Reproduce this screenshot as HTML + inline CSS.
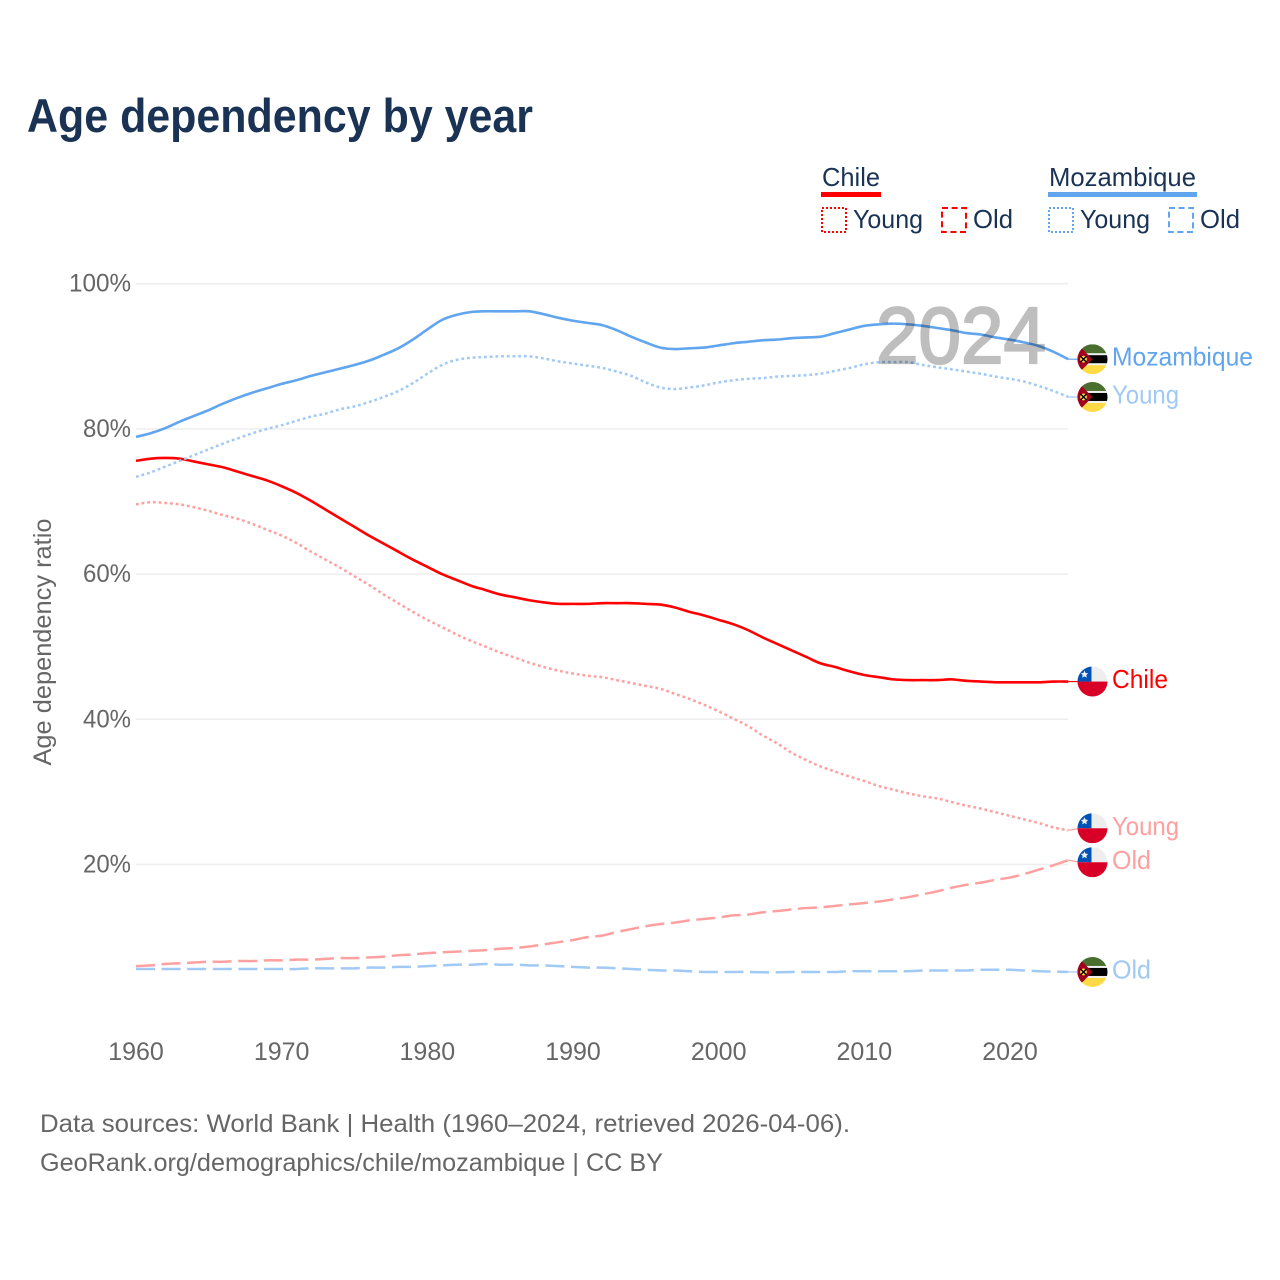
<!DOCTYPE html>
<html lang="en">
<head>
<meta charset="utf-8">
<title>Age dependency by year</title>
<style>
html,body{margin:0;padding:0;background:#fff;}
svg{display:block;font-family:"Liberation Sans",sans-serif;}
</style>
</head>
<body>
<svg id="chart" xmlns="http://www.w3.org/2000/svg" width="1280" height="1280" viewBox="0 0 1280 1280">
  <defs>
    <clipPath id="flag-clip"><circle cx="0" cy="0" r="15"/></clipPath>
    <g id="flag-chile" clip-path="url(#flag-clip)">
      <rect x="-15" y="-15" width="30" height="15" fill="#eeeeee"/>
      <rect x="-15" y="-15" width="14" height="15" fill="#0052b4"/>
      <rect x="-15" y="0" width="30" height="15" fill="#d80027"/>
      <polygon points="-8,-11 -6.9,-8.6 -4.3,-8.3 -6.2,-6.5 -5.7,-3.9 -8,-5.2 -10.3,-3.9 -9.8,-6.5 -11.7,-8.3 -9.1,-8.6" fill="#f0f0f0"/>
    </g>
    <g id="flag-mozambique" clip-path="url(#flag-clip)">
      <rect x="-15" y="-15" width="30" height="10" fill="#496e2d"/>
      <rect x="-15" y="-6" width="30" height="12" fill="#f0f0f0"/>
      <rect x="-15" y="-4" width="30" height="8" fill="#000000"/>
      <rect x="-15" y="6" width="30" height="9" fill="#ffda44"/>
      <polygon points="-15,-15 0,0 -15,15" fill="#a2001d"/>
      <circle cx="-9" cy="0" r="3.4" fill="#ffda44"/>
      <path d="M-12,-3 L-6,3 M-6,-3 L-12,3" stroke="#000" stroke-width="1.4" fill="none"/>
    </g>
  </defs>

  <text x="27" y="132" font-size="47" font-weight="700" fill="#1a3354" textLength="506" lengthAdjust="spacingAndGlyphs">Age dependency by year</text>

  <g font-size="26" fill="#1a3354">
    <text x="822" y="186" textLength="58" lengthAdjust="spacingAndGlyphs">Chile</text>
    <rect x="821" y="192" width="60" height="5" fill="#ff0000"/>
    <rect x="822" y="208" width="24" height="24" fill="none" stroke="#ff0000" stroke-width="2" stroke-dasharray="2 2"/>
    <text x="853" y="228" textLength="70" lengthAdjust="spacingAndGlyphs">Young</text>
    <rect x="942" y="208" width="24" height="24" fill="none" stroke="#ff0000" stroke-width="2" stroke-dasharray="6 3.6"/>
    <text x="973" y="228" textLength="40" lengthAdjust="spacingAndGlyphs">Old</text>
    <text x="1049" y="186" textLength="147" lengthAdjust="spacingAndGlyphs">Mozambique</text>
    <rect x="1048" y="192" width="149" height="5" fill="#60a5ee"/>
    <rect x="1049" y="208" width="24" height="24" fill="none" stroke="#60a5ee" stroke-width="2" stroke-dasharray="2 2"/>
    <text x="1080" y="228" textLength="70" lengthAdjust="spacingAndGlyphs">Young</text>
    <rect x="1169" y="208" width="24" height="24" fill="none" stroke="#60a5ee" stroke-width="2" stroke-dasharray="6 3.6"/>
    <text x="1200" y="228" textLength="40" lengthAdjust="spacingAndGlyphs">Old</text>
  </g>

  <g id="y-grid"></g>
  <g id="x-axis"></g>

  <text transform="translate(51,642) rotate(-90)" text-anchor="middle" font-size="25" fill="#666666" textLength="247" lengthAdjust="spacingAndGlyphs">Age dependency ratio</text>

  <g id="series"></g>

  <text x="876" y="363" font-size="80" fill="#000000" stroke="#000000" stroke-width="2.2" opacity="0.25" textLength="170" lengthAdjust="spacingAndGlyphs">2024</text>

  <g id="end-labels"></g>

  <g font-size="25" fill="#666666">
    <text x="40" y="1132" textLength="810" lengthAdjust="spacingAndGlyphs">Data sources: World Bank | Health (1960–2024, retrieved 2026-04-06).</text>
    <text x="40" y="1171" textLength="623" lengthAdjust="spacingAndGlyphs">GeoRank.org/demographics/chile/mozambique | CC BY</text>
  </g>
</svg>

<script>
const years = [1960,1961,1962,1963,1964,1965,1966,1967,1968,1969,1970,1971,1972,1973,1974,1975,1976,1977,1978,1979,1980,1981,1982,1983,1984,1985,1986,1987,1988,1989,1990,1991,1992,1993,1994,1995,1996,1997,1998,1999,2000,2001,2002,2003,2004,2005,2006,2007,2008,2009,2010,2011,2012,2013,2014,2015,2016,2017,2018,2019,2020,2021,2022,2023,2024];

const chileTotal = [75.6,75.9,76,75.9,75.5,75.1,74.7,74.1,73.5,72.9,72.1,71.2,70.1,68.9,67.7,66.5,65.3,64.2,63.1,62,61,60,59.2,58.4,57.8,57.2,56.8,56.4,56.1,55.9,55.9,55.9,56,56,56,55.9,55.8,55.4,54.8,54.3,53.7,53.1,52.3,51.3,50.4,49.5,48.6,47.7,47.2,46.6,46.1,45.8,45.5,45.4,45.4,45.4,45.5,45.3,45.2,45.1,45.1,45.1,45.1,45.2,45.2];

const chileYoung = [69.6,69.9,69.8,69.6,69.2,68.7,68.1,67.6,66.9,66.1,65.3,64.3,63.1,62,60.9,59.7,58.5,57.2,56,54.8,53.7,52.7,51.7,50.8,50,49.2,48.5,47.8,47.2,46.7,46.3,46,45.8,45.4,45,44.6,44.2,43.5,42.8,42,41.1,40.1,39.1,37.8,36.7,35.4,34.4,33.5,32.8,32.1,31.5,30.8,30.3,29.8,29.4,29.1,28.6,28.1,27.7,27.2,26.7,26.2,25.7,25.1,24.7];

const chileOld = [6,6.1,6.3,6.4,6.5,6.6,6.6,6.7,6.7,6.8,6.8,6.9,6.9,7,7.1,7.1,7.2,7.3,7.5,7.6,7.8,7.9,8,8.1,8.2,8.4,8.5,8.7,9,9.3,9.6,10,10.2,10.7,11.1,11.5,11.8,12,12.3,12.5,12.7,13,13.1,13.4,13.6,13.8,14,14.1,14.3,14.5,14.7,14.9,15.2,15.5,15.9,16.3,16.8,17.2,17.5,17.9,18.2,18.7,19.3,19.9,20.6];

const mozambiqueTotal = [78.9,79.4,80.1,81,81.8,82.6,83.5,84.3,85,85.6,86.2,86.7,87.3,87.8,88.3,88.8,89.4,90.2,91.1,92.3,93.7,95,95.7,96.1,96.2,96.2,96.2,96.2,95.8,95.3,94.9,94.6,94.3,93.6,92.7,91.9,91.2,91,91.1,91.2,91.5,91.8,92,92.2,92.3,92.5,92.6,92.7,93.2,93.7,94.2,94.4,94.5,94.4,94.2,93.9,93.6,93.2,93,92.6,92.3,91.9,91.4,90.6,89.6];

const mozambiqueYoung = [73.4,74,74.8,75.6,76.4,77.2,78,78.7,79.4,80,80.5,81.1,81.7,82.1,82.7,83.1,83.7,84.4,85.2,86.3,87.6,88.8,89.5,89.8,89.9,90,90,90,89.7,89.3,89,88.7,88.4,87.9,87.3,86.4,85.7,85.5,85.7,86,86.4,86.7,86.9,87,87.2,87.3,87.4,87.6,88,88.4,88.9,89.2,89.2,89.2,88.8,88.5,88.2,87.9,87.6,87.2,86.9,86.5,85.9,85.2,84.4];

const mozambiqueOld = [5.6,5.6,5.6,5.6,5.6,5.6,5.6,5.6,5.6,5.6,5.6,5.6,5.7,5.7,5.7,5.7,5.8,5.8,5.9,5.9,6,6.1,6.2,6.2,6.3,6.2,6.2,6.1,6.1,6,5.9,5.8,5.8,5.7,5.6,5.5,5.4,5.4,5.3,5.2,5.2,5.2,5.2,5.15,5.15,5.2,5.2,5.2,5.2,5.3,5.3,5.3,5.3,5.3,5.4,5.4,5.4,5.4,5.5,5.5,5.5,5.4,5.3,5.25,5.2];

const yTicks = [20,40,60,80,100];
const yTickLabels = ["20%","40%","60%","80%","100%"];
const xTicks = [1960,1970,1980,1990,2000,2010,2020];
const xTickLabels = ["1960","1970","1980","1990","2000","2010","2020"];

const svgNS = "http://www.w3.org/2000/svg";
function xScale(year){ return 136 + (year - 1960) * 14.567; }
function yScale(pct){ return 1009.7 - pct * 7.26; }

function smoothPath(values){
  const pts = values.map(function(v, i){ return [xScale(years[i]), yScale(v)]; });
  let d = "M" + pts[0][0].toFixed(2) + " " + pts[0][1].toFixed(2);
  for (let i = 0; i < pts.length - 1; i++) {
    const p0 = pts[Math.max(i - 1, 0)];
    const p1 = pts[i];
    const p2 = pts[i + 1];
    const p3 = pts[Math.min(i + 2, pts.length - 1)];
    const c1x = p1[0] + (p2[0] - p0[0]) / 6;
    const c1y = p1[1] + (p2[1] - p0[1]) / 6;
    const c2x = p2[0] - (p3[0] - p1[0]) / 6;
    const c2y = p2[1] - (p3[1] - p1[1]) / 6;
    d += " C" + c1x.toFixed(2) + " " + c1y.toFixed(2) + " " + c2x.toFixed(2) + " " + c2y.toFixed(2) + " " + p2[0].toFixed(2) + " " + p2[1].toFixed(2);
  }
  return d;
}

const gridGroup = document.getElementById("y-grid");
yTicks.forEach(function(t, i){
  const line = document.createElementNS(svgNS, "line");
  
  
  line.setAttribute("x1", xScale(1960));
  line.setAttribute("x2", xScale(2024));
  line.setAttribute("y1", yScale(t));
  line.setAttribute("y2", yScale(t));
  line.setAttribute("stroke", "#eeeeee");
  line.setAttribute("stroke-width", "1.5");
  gridGroup.appendChild(line);

  const label = document.createElementNS(svgNS, "text");
  
  
  label.setAttribute("x", 131);
  label.setAttribute("y", yScale(t) + 8);
  label.setAttribute("text-anchor", "end");
  label.setAttribute("font-size", "25");
  label.setAttribute("fill", "#666666");
  label.setAttribute("lengthAdjust", "spacingAndGlyphs");
  label.setAttribute("textLength", t === 100 ? 62 : 48);
  label.textContent = yTickLabels[i];
  gridGroup.appendChild(label);
});

const xGroup = document.getElementById("x-axis");
xTicks.forEach(function(t, i){
  const label = document.createElementNS(svgNS, "text");
  
  
  label.setAttribute("x", xScale(t));
  label.setAttribute("y", 1060);
  label.setAttribute("text-anchor", "middle");
  label.setAttribute("font-size", "25");
  label.setAttribute("fill", "#666666");
  label.textContent = xTickLabels[i];
  xGroup.appendChild(label);
});

const DOT = "2.8 2.9";
const DASH = "19 6.6";
const seriesList = [
  {key:"chile-total", values:chileTotal, color:"#ff0000", dash:null, flag:"#flag-chile", text:"Chile", width:56},
  {key:"chile-young", values:chileYoung, color:"#ffa0a0", dash:DOT, flag:"#flag-chile", text:"Young", width:67},
  {key:"chile-old", values:chileOld, color:"#ffa0a0", dash:DASH, flag:"#flag-chile", text:"Old", width:39},
  {key:"mozambique-total", values:mozambiqueTotal, color:"#60a5ee", dash:null, flag:"#flag-mozambique", text:"Mozambique", width:141},
  {key:"mozambique-young", values:mozambiqueYoung, color:"#a0c9f5", dash:DOT, flag:"#flag-mozambique", text:"Young", width:67},
  {key:"mozambique-old", values:mozambiqueOld, color:"#a0c9f5", dash:DASH, flag:"#flag-mozambique", text:"Old", width:39}
];

/* end-label positions: last value, pushed apart where labels would collide */
const minGap = 34;
const placed = seriesList.map(function(s){
  return {s:s, endY:yScale(s.values[s.values.length - 1]), y:yScale(s.values[s.values.length - 1])};
}).sort(function(a, b){ return a.y - b.y; });
for (let pass = 0; pass < 10; pass++) {
  for (let i = 1; i < placed.length; i++) {
    const gap = placed[i].y - placed[i - 1].y;
    if (gap < minGap) {
      const shift = (minGap - gap) / 2;
      placed[i - 1].y -= shift;
      placed[i].y += shift;
    }
  }
}

const seriesGroup = document.getElementById("series");
const endGroup = document.getElementById("end-labels");
seriesList.forEach(function(s){
  const path = document.createElementNS(svgNS, "path");
  
  
  path.setAttribute("d", smoothPath(s.values));
  path.setAttribute("fill", "none");
  path.setAttribute("stroke", s.color);
  path.setAttribute("stroke-width", s.dash ? "2.5" : "2.6");
  path.setAttribute("stroke-linejoin", "round");
  if (s.dash) path.setAttribute("stroke-dasharray", s.dash);
  seriesGroup.appendChild(path);
});

placed.forEach(function(p){
  const ex = xScale(years[years.length - 1]);

  const connector = document.createElementNS(svgNS, "line");
  
  
  connector.setAttribute("x1", ex);
  connector.setAttribute("y1", p.endY);
  connector.setAttribute("x2", 1080);
  connector.setAttribute("y2", p.y);
  connector.setAttribute("stroke", p.s.color);
  connector.setAttribute("stroke-width", "1.2");
  endGroup.appendChild(connector);

  const flag = document.createElementNS(svgNS, "use");
  
  
  flag.setAttribute("href", p.s.flag);
  flag.setAttribute("transform", "translate(1092.5," + p.y.toFixed(2) + ")");
  endGroup.appendChild(flag);

  const label = document.createElementNS(svgNS, "text");
  
  
  label.setAttribute("x", 1112);
  label.setAttribute("y", (p.y + 6.5).toFixed(2));
  label.setAttribute("font-size", "26");
  label.setAttribute("fill", p.s.color);
  label.setAttribute("lengthAdjust", "spacingAndGlyphs");
  label.setAttribute("textLength", p.s.width);
  label.textContent = p.s.text;
  endGroup.appendChild(label);
});
</script>
</body>
</html>
